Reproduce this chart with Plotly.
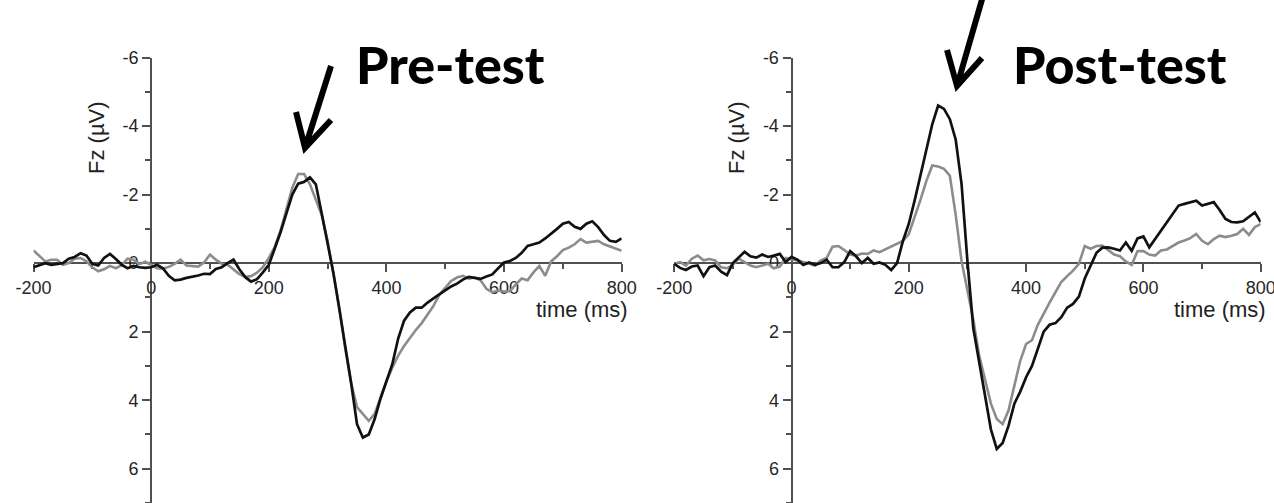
import plotly.graph_objects as go

W, H = 1274, 503

# ERP time base (ms) shared by all four averaged waveforms
time_ms = list(range(-200, 801, 10))

# Fz amplitude (µV), pre-test session
pre_black = [
    0.12, 0.06, 0.00, 0.05, 0.03, 0.00, -0.13, -0.18, -0.29, -0.22,
    0.02, 0.07, -0.15, -0.27, -0.12, 0.05, 0.15, 0.08, 0.12, 0.14,
    0.12, 0.05, 0.15, 0.37, 0.50, 0.48, 0.43, 0.40, 0.36, 0.31,
    0.32, 0.17, 0.12, 0.00, -0.10, 0.18, 0.41, 0.54, 0.47, 0.27,
    0.05, -0.42, -0.90, -1.45, -2.00, -2.32, -2.37, -2.50, -2.30, -1.45,
    -0.55, 0.30, 1.35, 2.40, 3.50, 4.70, 5.09, 5.00, 4.55, 3.95,
    3.42, 2.95, 2.20, 1.68, 1.44, 1.30, 1.30, 1.15, 1.03, 0.92,
    0.80, 0.68, 0.60, 0.48, 0.40, 0.42, 0.46, 0.39, 0.33, 0.15,
    -0.02, -0.06, -0.15, -0.30, -0.50, -0.55, -0.60, -0.72, -0.85, -1.00,
    -1.15, -1.20, -1.06, -1.00, -1.15, -1.22, -1.05, -0.82, -0.65, -0.62,
    -0.72,
]
pre_gray = [
    -0.37, -0.20, -0.05, -0.10, -0.10, 0.05, 0.00, -0.13, -0.15, -0.05,
    0.12, 0.24, 0.18, 0.08, 0.15, 0.06, -0.13, -0.10, 0.03, -0.04,
    0.05, 0.15, 0.16, 0.11, 0.02, -0.10, 0.07, 0.08, 0.10, -0.02,
    -0.25, -0.10, 0.02, 0.05, 0.18, 0.32, 0.40, 0.38, 0.28, 0.12,
    -0.15, -0.47, -0.95, -1.55, -2.20, -2.60, -2.60, -2.30, -1.85, -1.40,
    -0.65, 0.30, 1.30, 2.50, 3.50, 4.20, 4.40, 4.60, 4.40, 3.90,
    3.45, 3.05, 2.70, 2.42, 2.18, 1.95, 1.75, 1.50, 1.25, 0.92,
    0.72, 0.52, 0.42, 0.37, 0.45, 0.42, 0.50, 0.75, 0.85, 0.80,
    0.83, 0.82, 0.62, 0.45, 0.50, 0.27, 0.08, 0.37, -0.05, -0.20,
    -0.38, -0.45, -0.55, -0.70, -0.60, -0.62, -0.65, -0.55, -0.48, -0.42,
    -0.36,
]

# Fz amplitude (µV), post-test session
post_black = [
    0.02, 0.14, 0.20, 0.10, 0.07, 0.38, 0.12, 0.07, 0.25, 0.35,
    0.00, -0.18, -0.33, -0.20, -0.16, -0.25, -0.18, -0.22, -0.27, -0.03,
    -0.18, -0.10, 0.05, -0.02, 0.05, 0.00, -0.10, 0.12, 0.12, -0.03,
    -0.35, -0.20, 0.00, -0.15, 0.02, -0.02, 0.05, 0.20, 0.00, -0.65,
    -1.15, -1.83, -2.60, -3.35, -4.05, -4.60, -4.50, -4.20, -3.60, -2.30,
    -0.05, 1.90, 2.90, 3.95, 4.85, 5.42, 5.25, 4.75, 4.10, 3.75,
    3.33, 3.00, 2.50, 2.00, 1.80, 1.75, 1.58, 1.30, 1.19, 0.98,
    0.45, 0.05, -0.30, -0.45, -0.46, -0.42, -0.37, -0.60, -0.36, -0.72,
    -0.78, -0.46, -0.70, -0.95, -1.20, -1.45, -1.68, -1.73, -1.78, -1.82,
    -1.68, -1.72, -1.78, -1.55, -1.29, -1.20, -1.19, -1.22, -1.35, -1.48,
    -1.20,
]
post_gray = [
    0.02, -0.03, 0.07, -0.13, -0.22, -0.08, -0.12, -0.08, 0.12, 0.15,
    0.05, -0.13, -0.03, 0.07, 0.12, 0.08, 0.02, 0.15, 0.10, -0.15,
    -0.12, -0.08, -0.03, 0.02, 0.07, -0.08, -0.15, -0.48, -0.50, -0.38,
    -0.25, -0.22, -0.28, -0.27, -0.37, -0.32, -0.40, -0.48, -0.55, -0.65,
    -0.85, -1.34, -1.85, -2.40, -2.85, -2.82, -2.75, -2.55, -1.40, -0.05,
    0.75, 1.65, 2.70, 3.40, 4.10, 4.55, 4.70, 4.30, 3.55, 2.85,
    2.36, 2.25, 1.80, 1.45, 1.15, 0.85, 0.55, 0.38, 0.22, 0.02,
    -0.50, -0.42, -0.50, -0.51, -0.38, -0.25, -0.20, -0.05, 0.05, -0.35,
    -0.35, -0.25, -0.22, -0.37, -0.40, -0.51, -0.60, -0.66, -0.73, -0.85,
    -0.65, -0.55, -0.70, -0.80, -0.76, -0.80, -0.85, -1.00, -0.82, -1.05,
    -1.14,
]

panel_titles = ["Pre-test", "Post-test"]
x_ticks = [-200, 0, 200, 400, 600, 800]
y_ticks = [-6, -4, -2, 0, 2, 4, 6]
x_range = [-200, 800]
y_range = [7.0, -6.0]          # negative up, ERP convention

BLACK = "#111111"
GRAY = "#8c8c8c"
AXIS = "#505050"
TEXT = "#262626"
TICK_FONT = dict(family="Liberation Sans, Arial, sans-serif", size=18, color=TEXT)
TITLE_FONT = dict(family="Liberation Sans, Arial, sans-serif", size=22, color="#222222")

# subplot geometry (paper fractions)
x_domains = [[33.5 / W, 621.7 / W], [674.2 / W, 1260.7 / W]]
y_domain = [0.0, 1 - 57.5 / H]
y_zero_frac = y_domain[1] * (y_range[0] - 0) / (y_range[0] - y_range[1])

fig = go.Figure()

series = [(pre_gray, pre_black), (post_gray, post_black)]
for i, (gray_vals, black_vals) in enumerate(series):
    xa = "x" if i == 0 else "x2"
    ya = "y" if i == 0 else "y2"
    fig.add_trace(go.Scatter(x=time_ms, y=gray_vals, mode="lines",
                             line=dict(color=GRAY, width=2.6),
                             xaxis=xa, yaxis=ya, showlegend=False))
    fig.add_trace(go.Scatter(x=time_ms, y=black_vals, mode="lines",
                             line=dict(color=BLACK, width=2.7),
                             xaxis=xa, yaxis=ya, showlegend=False))


def x_axis(dom):
    return dict(
        domain=dom, range=x_range, anchor="free", position=y_zero_frac,
        showline=True, linecolor=AXIS, linewidth=2,
        ticks="outside", ticklen=8, tickwidth=1.5, tickcolor=AXIS,
        tickmode="array", tickvals=x_ticks, ticktext=[str(v) for v in x_ticks],
        minor=dict(dtick=100, ticks="outside", ticklen=5, tickwidth=1.5, tickcolor=AXIS),
        tickfont=TICK_FONT, showgrid=False, zeroline=False, layer="below traces",
        ticklabeloverflow="allow", automargin=False, fixedrange=True,
    )


def y_axis(dom_x):
    pos = dom_x[0] + (0 - x_range[0]) / (x_range[1] - x_range[0]) * (dom_x[1] - dom_x[0])
    return dict(
        domain=y_domain, range=y_range, anchor="free", position=pos,
        showline=True, linecolor=AXIS, linewidth=2,
        ticks="outside", ticklen=8, tickwidth=1.5, tickcolor=AXIS,
        tickmode="array", tickvals=y_ticks, ticktext=[str(v) for v in y_ticks],
        minor=dict(dtick=1, ticks="outside", ticklen=5, tickwidth=1.5, tickcolor=AXIS),
        tickfont=TICK_FONT, showgrid=False, zeroline=False, layer="below traces",
        ticklabeloverflow="allow", automargin=False, fixedrange=True,
    )


def p(xpx, ypx):
    return xpx / W, 1 - ypx / H


annotations = []
# panel titles
for cx, label in zip([450, 1119.5], panel_titles):
    x, y = p(cx, 64)
    annotations.append(dict(x=x, y=y, xref="paper", yref="paper", text=label,
                            showarrow=False, xanchor="center", yanchor="middle",
                            font=dict(family="Lato", size=52, color="#000000", weight=900)))
# axis titles
for cx in [97, 737]:
    x, y = p(cx, 138)
    annotations.append(dict(x=x, y=y, xref="paper", yref="paper", text="Fz (µV)",
                            textangle=-90, showarrow=False, xanchor="center",
                            yanchor="middle", font=TITLE_FONT))
for rx in [630, 1268]:
    x, y = p(rx, 309)
    annotations.append(dict(x=x, y=y, xref="paper", yref="paper", text="time (ms)",
                            showarrow=False, xanchor="right", yanchor="middle",
                            font=TITLE_FONT))

# hand-drawn style arrows pointing at the N2 peaks
arrows = [
    [(331, 66), (305, 148), (296, 112), (331, 120)],
    [(983, -4), (957, 86), (947, 50), (982, 58)],
]
shapes = []
for top, tip, arm_l, arm_r in arrows:
    pts = [p(*top), p(*tip), p(*arm_l), p(*arm_r)]
    path = (f"M {pts[0][0]},{pts[0][1]} L {pts[1][0]},{pts[1][1]} "
            f"M {pts[2][0]},{pts[2][1]} L {pts[1][0]},{pts[1][1]} L {pts[3][0]},{pts[3][1]}")
    shapes.append(dict(type="path", path=path, xref="paper", yref="paper",
                       line=dict(color="#000000", width=6)))

fig.update_layout(
    width=W, height=H,
    margin=dict(l=0, r=0, t=0, b=0, pad=0, autoexpand=False),
    paper_bgcolor="white", plot_bgcolor="white",
    xaxis=x_axis(x_domains[0]), yaxis=y_axis(x_domains[0]),
    xaxis2=x_axis(x_domains[1]), yaxis2=y_axis(x_domains[1]),
    annotations=annotations, shapes=shapes, showlegend=False,
)

fig.write_html("out.html")
